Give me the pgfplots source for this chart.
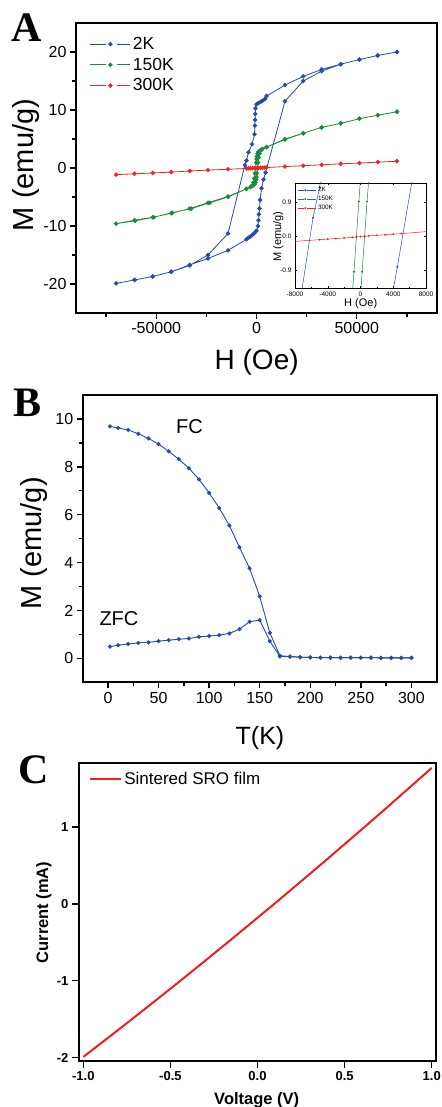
\documentclass[border=0pt]{standalone}
\usepackage{fontspec}
\setmainfont{Liberation Sans}
\newfontfamily\panelfont{Liberation Serif}
\usepackage{pgfplots}
\usepackage{pgfplotstable}
\pgfplotsset{compat=1.18}

\definecolor{cblue}{RGB}{40,74,168}
\definecolor{cgreen}{RGB}{22,140,62}
\definecolor{cred}{RGB}{236,38,40}
\definecolor{cvred}{RGB}{240,30,30}

\newcommand{\fs}[1]{\fontsize{#1bp}{#1bp}\selectfont}

% M-H loops (descending branch, then ascending branch)
\pgfplotstableread{
H M
70000 20.0
60500 19.4
51300 18.7
42000 17.9
32500 17.0
23300 15.8
14200 14.3
5000 12.4
4200 11.9
3000 11.6
2000 11.4
1000 11.2
0 11.0
-500 10.3
-600 9.3
-700 8.3
-800 7.3
-1000 5.8
-2200 4.1
-4000 2.7
-5000 1.3
-5800 0.5
-14200 -11.3
-24200 -15.0
-33300 -16.8
-42500 -17.9
-51700 -18.7
-60800 -19.3
-70000 -19.9
-60800 -19.3
-51700 -18.7
-42500 -17.9
-33300 -16.7
-24200 -15.6
-14200 -14.2
-5000 -12.3
-4000 -12.0
-3000 -11.8
-2000 -11.5
-1000 -11.2
0 -10.8
800 -10.0
1000 -9.0
1200 -8.0
1500 -7.0
1800 -5.5
2500 -3.5
3500 -2.0
4500 -0.8
14200 11.5
23300 15.0
32500 16.7
42000 17.9
51300 18.7
60500 19.4
70000 20.0
}\twoK

\pgfplotstableread{
H M
70000 9.7
60500 9.1
51300 8.5
42000 7.7
32500 7.0
23300 6.0
14200 5.0
5000 3.6
3000 3.3
2000 3.1
1000 2.8
500 2.5
200 2.0
0 1.55
-200 0.93
-500 0.0
-800 -0.93
-1100 -1.8
-1500 -2.5
-2500 -3.1
-5000 -3.6
-14200 -4.9
-24200 -6.0
-33300 -7.0
-42500 -7.8
-51700 -8.5
-60800 -9.0
-70000 -9.6
-60500 -9.1
-51300 -8.5
-42000 -7.7
-32500 -7.0
-23300 -6.0
-14200 -5.0
-5000 -3.6
-3000 -3.3
-2000 -3.1
-1000 -2.8
-500 -2.5
-200 -2.0
0 -1.55
200 -0.93
500 0.0
800 0.93
1100 1.8
1500 2.5
2500 3.1
5000 3.6
14200 4.9
23300 6.0
32500 7.0
42000 7.7
51300 8.5
60500 9.1
70000 9.7
}\oneFiftyK

\pgfplotstableread{
H M
-70000 -1.14
-60800 -1.0
-51700 -0.86
-42500 -0.70
-33300 -0.52
-24200 -0.36
-14200 -0.22
-5000 -0.08
-4000 -0.065
-3000 -0.05
-2000 -0.035
-1000 -0.02
-500 -0.01
0 0.0
500 0.01
1000 0.02
2000 0.035
3000 0.05
4000 0.065
5000 0.08
14200 0.24
23300 0.40
32500 0.55
42000 0.72
51300 0.86
60500 1.0
70000 1.17
}\threeHK

% M-T curves
\pgfplotstableread{
T M
2 9.69
10 9.62
20 9.54
30 9.38
40 9.19
50 8.95
60 8.65
70 8.32
80 7.94
90 7.48
100 6.91
110 6.28
120 5.55
130 4.64
140 3.76
150 2.59
160 1.07
170 0.11
180 0.08
190 0.05
200 0.04
210 0.03
220 0.03
230 0.03
240 0.03
250 0.03
260 0.03
270 0.02
280 0.02
290 0.02
300 0.02
}\fc

\pgfplotstableread{
T M
2 0.49
10 0.55
20 0.60
30 0.645
40 0.67
50 0.72
60 0.76
70 0.80
80 0.83
90 0.90
100 0.93
110 0.97
120 1.04
130 1.22
140 1.53
150 1.60
160 0.72
170 0.08
180 0.07
190 0.05
200 0.04
210 0.03
220 0.03
230 0.03
240 0.03
250 0.03
260 0.03
270 0.02
280 0.02
290 0.02
300 0.02
}\zfc

% I-V
\pgfplotstableread{
V I
-1.0 -1.99
-0.9 -1.815
-0.8 -1.639
-0.7 -1.462
-0.6 -1.283
-0.5 -1.103
-0.4 -0.921
-0.3 -0.738
-0.2 -0.553
-0.1 -0.367
0.0 -0.18
0.1 0.008
0.2 0.199
0.3 0.390
0.4 0.583
0.5 0.778
0.6 0.973
0.7 1.170
0.8 1.369
0.9 1.569
1.0 1.77
}\iv

\pgfplotsset{
  panel/.style={
    scale only axis, anchor=north west,
    /pgf/number format/assume math mode=true,
    /pgf/number format/set thousands separator={},
    scaled ticks=false,
    tick align=outside, xtick pos=left, ytick pos=left,
    axis line style={line width=2bp},
    tick style={black, line width=1.4bp},
    major tick length=6bp, minor tick length=4bp,
    tick label style={font=\fs{16}},
  },
  gaplegend/.style={
    legend image code/.code={
      \draw[##1,mark=none] (0bp,0bp) -- (16bp,0bp);
      \draw[##1,mark=none] (27bp,0bp) -- (40bp,0bp);
      \draw[##1] plot coordinates {(20bp,0bp)};
    }
  },
}

\begin{document}
\begin{tikzpicture}
\useasboundingbox (0,0) rectangle (442bp,-1107bp);

% ---------- A ----------
\begin{axis}[panel, gaplegend,
  at={(76bp,-23bp)}, width=361bp, height=290bp,
  xmin=-90000, xmax=90000, ymin=-25, ymax=25,
  xtick={-50000,0,50000}, minor xtick={-75000,-25000,25000,75000},
  ytick={-20,-10,0,10,20}, minor ytick={-15,-5,5,15},
  legend style={at={(axis description cs:0.03,0.965)}, anchor=north west,
    draw=none, fill=none, font=\fs{17.5}, row sep=3bp},
  legend cell align=left,
]
\addplot[cblue, line width=0.8bp, mark=*, mark size=1.8bp] table {\twoK};
\addplot[cgreen, line width=0.8bp, mark=*, mark size=1.8bp] table {\oneFiftyK};
\addplot[cred, line width=0.8bp, mark=*, mark size=1.8bp] table {\threeHK};
\legend{2K,150K,300K}
\end{axis}

% inset
\begin{axis}[scale only axis, anchor=north west,
  at={(295bp,-183bp)}, width=131bp, height=105bp,
  axis background/.style={fill=white},
  /pgf/number format/assume math mode=true,
  /pgf/number format/set thousands separator={},
  scaled ticks=false,
  xmin=-8000, xmax=8000, ymin=-1.36, ymax=1.42,
  xtick={-8000,-4000,0,4000,8000}, ytick={-0.9,0,0.9},
  minor xtick={-6000,-2000,2000,6000},
  yticklabel style={/pgf/number format/.cd, fixed, fixed zerofill, precision=1},
  tick align=inside, major tick length=2bp, minor tick length=1.2bp,
  axis line style={line width=0.8bp}, tick style={black, line width=0.5bp},
  tick label style={font=\fs{6.5}},
  legend image code/.code={
    \draw[#1,mark=none] (0bp,0bp) -- (6bp,0bp);
    \draw[#1,mark=none] (9bp,0bp) -- (18bp,0bp);
    \draw[#1] plot coordinates {(7.5bp,0bp)};
  },
  legend style={at={(axis description cs:0.01,0.99)}, anchor=north west,
    draw=none, fill=none, font=\fs{6.4}, row sep=-1bp, inner sep=1bp},
  legend cell align=left,
]
\addplot[cblue, line width=0.5bp, mark=*, mark size=0.7bp] table {\twoK};
\addplot[cgreen, line width=0.5bp, mark=*, mark size=0.7bp] table {\oneFiftyK};
\addplot[cred, line width=0.5bp, mark=*, mark size=0.7bp] table {\threeHK};
\legend{2K,150K,300K}
\end{axis}

% ---------- B ----------
\begin{axis}[panel,
  at={(82.7bp,-395bp)}, width=354bp, height=287.3bp,
  xmin=-25, xmax=325, ymin=-1, ymax=11,
  xtick={0,50,...,300}, minor xtick={25,75,...,275},
  ytick={0,2,...,10}, minor ytick={1,3,...,9},
]
\addplot[cblue, line width=0.9bp, mark=*, mark size=1.6bp] table {\fc};
\addplot[cblue, line width=0.9bp, mark=*, mark size=1.6bp] table {\zfc};
\end{axis}

% ---------- C ----------
\begin{axis}[panel,
  at={(79bp,-763.3bp)}, width=356.7bp, height=297.4bp,
  xmin=-1.025, xmax=1.023, ymin=-2.04, ymax=1.83,
  xtick={-1,-0.5,0,0.5,1}, ytick={-2,-1,0,1},
  xticklabel style={/pgf/number format/.cd, fixed, fixed zerofill, precision=1},
  major tick length=7bp,
  tick label style={font=\bfseries\fs{13}},
  legend image code/.code={\draw[#1] (0bp,0bp) -- (31bp,0bp);},
  legend style={at={(axis description cs:0.02,0.985)}, anchor=north west,
    draw=none, fill=none, font=\fs{17}},
]
\addplot[cvred, line width=2bp] table {\iv};
\legend{Sintered SRO film}
\end{axis}

% ---------- labels ----------
\node[anchor=base west, inner sep=0, font=\panelfont\bfseries\fs{42}] at (11bp,-41.7bp) {A};
\node[anchor=base west, inner sep=0, font=\panelfont\bfseries\fs{42}] at (13bp,-416.7bp) {B};
\node[anchor=base west, inner sep=0, font=\panelfont\bfseries\fs{42}] at (18bp,-783bp) {C};

\node[rotate=90, anchor=base, inner sep=0, font=\fs{29}] at (33bp,-165bp) {M (emu/g)};
\node[anchor=base, inner sep=0, font=\fs{28}] at (256.7bp,-369bp) {H (Oe)};
\node[anchor=base, inner sep=0, font=\fs{11}] at (360.7bp,-306bp) {H (Oe)};
\node[rotate=90, anchor=base, inner sep=0, font=\fs{11}] at (281bp,-236.7bp) {M (emu/g)};

\node[rotate=90, anchor=base, inner sep=0, font=\fs{29}] at (41.7bp,-543.3bp) {M (emu/g)};
\node[anchor=base, inner sep=0, font=\fs{25}] at (260bp,-744bp) {T(K)};
\node[anchor=base west, inner sep=0, font=\fs{20}] at (176bp,-433.3bp) {FC};
\node[anchor=base west, inner sep=0, font=\fs{20}] at (99.3bp,-625bp) {ZFC};

\node[rotate=90, anchor=base, inner sep=0, font=\bfseries\fs{16.5}] at (48bp,-912.5bp) {Current (mA)};
\node[anchor=base, inner sep=0, font=\bfseries\fs{16.5}] at (256.7bp,-1104.5bp) {Voltage (V)};
\end{tikzpicture}
\end{document}
